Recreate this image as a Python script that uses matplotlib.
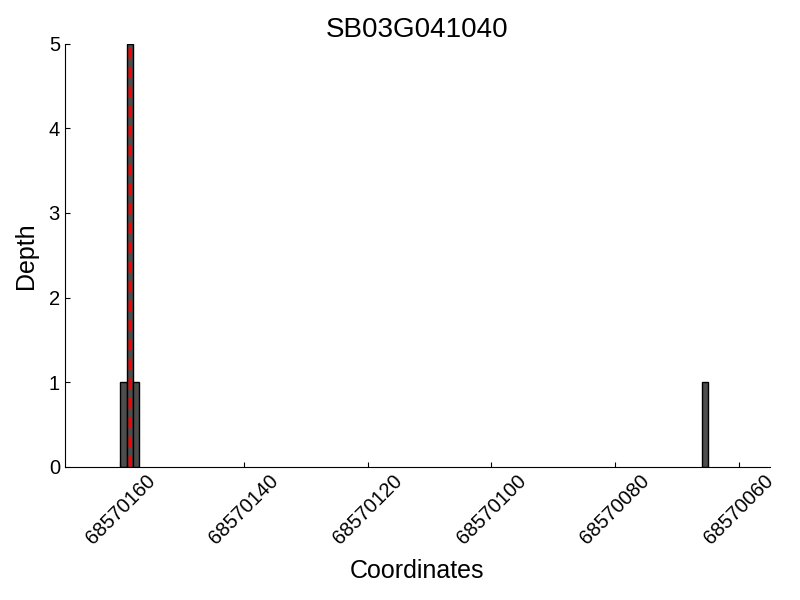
import matplotlib
matplotlib.use("Agg")
import matplotlib.pyplot as plt

plt.rcParams['font.family'] = ['Liberation Sans', 'DejaVu Sans']

# data
gene = "SB03G041040"
coords = [68570159, 68570158, 68570157, 68570065]
depth = [1, 5, 1, 1]
marker_pos = 68570158.5
xticks = [68570160, 68570140, 68570120, 68570100, 68570080, 68570060]

fig = plt.figure(figsize=(8, 6), dpi=100)
ax = fig.add_axes([0.081, 0.222, 0.881, 0.705])

ax.bar(coords, depth, width=1, align='edge', color='#4d4d4d', edgecolor='black', linewidth=1)
ax.axvline(marker_pos, color='red', linestyle='--', linewidth=2, dashes=(4, 3))

ax.set_xlim(68570169, 68570055)
ax.set_ylim(0, 5)
ax.set_xticks(xticks)
ax.set_xticklabels([str(x) for x in xticks], rotation=45, fontsize=14.5)
ax.set_yticks(range(6))
ax.tick_params(axis='y', labelsize=14.5)
ax.tick_params(direction='in', top=False, right=False)
ax.spines['top'].set_visible(False)
ax.spines['right'].set_visible(False)

ax.set_title(gene, fontsize=20, pad=5)
ax.set_xlabel("Coordinates", fontsize=18, labelpad=8)
ax.set_ylabel("Depth", fontsize=18, labelpad=8)

fig.savefig("out.png", dpi=100)
